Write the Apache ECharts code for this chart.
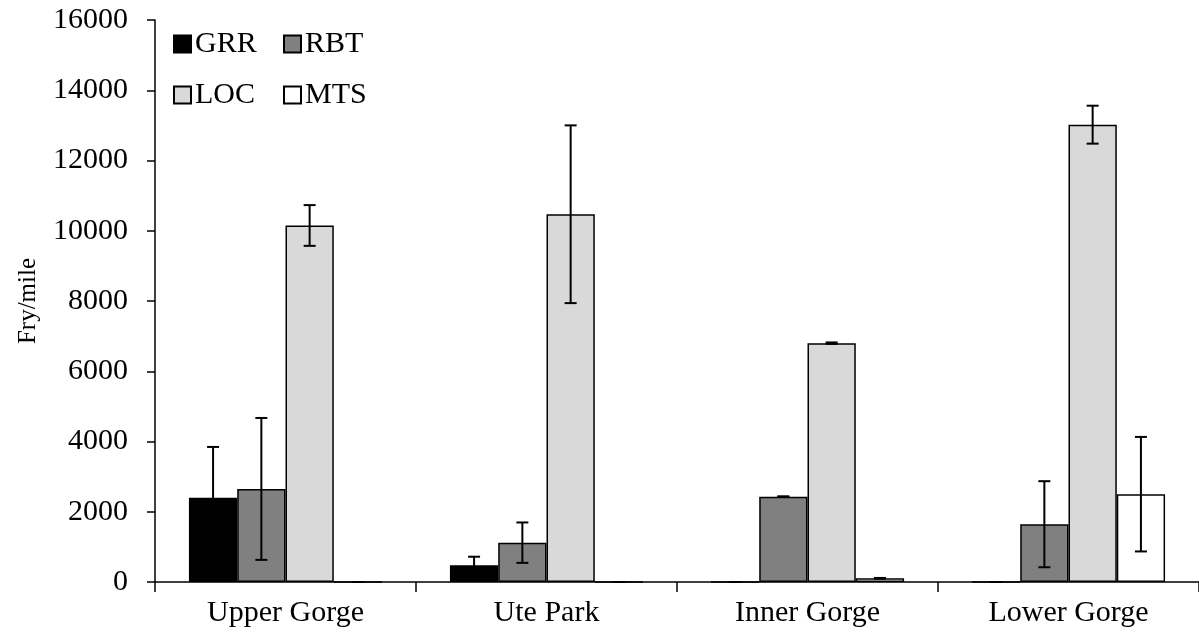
<!DOCTYPE html>
<html>
<head>
<meta charset="utf-8">
<script src="https://cdn.jsdelivr.net/npm/echarts@6/dist/echarts.min.js"></script>
<style>
html,body{margin:0;padding:0;background:#fff;}
#chart{width:1199px;height:637px;}
</style>
</head>
<body>
<div id="chart"></div>
<script>
const categories = ['Upper Gorge', 'Ute Park', 'Inner Gorge', 'Lower Gorge'];
const seriesNames = ['GRR', 'RBT', 'LOC', 'MTS'];
const grr = [2400, 475, 0, 0];
const rbt = [2650, 1120, 2430, 1645];
const loc = [10150, 10470, 6800, 13020];
const mts = [0, 0, 105, 2500];
const grrErr = [1445, 245, 0, 0];
const rbtErr = [2020, 575, 10, 1225];
const locErr = [580, 2530, 20, 540];
const mtsErr = [0, 0, 10, 1630];
const yTicks = [0, 2000, 4000, 6000, 8000, 10000, 12000, 14000, 16000];

const colors = ['#000000', '#808080', '#d9d9d9', '#ffffff'];
const values = [grr, rbt, loc, mts];
const errs = [grrErr, rbtErr, locErr, mtsErr];
const gapRatio = 0.26;
const FONT = '"Liberation Serif", "Times New Roman", serif';
const FS = 30;

const chart = echarts.init(document.getElementById('chart'));

const barSeries = seriesNames.map((name, i) => ({
  name: name,
  type: 'bar',
  data: values[i],
  barGap: '0%',
  barCategoryGap: (gapRatio * 100) + '%',
  itemStyle: { color: colors[i], borderColor: '#000', borderWidth: 1.5 },
  emphasis: { disabled: true },
  z: 2
}));

const errSeries = seriesNames.map((name, i) => ({
  type: 'custom',
  name: name + ' err',
  data: values[i].map((v, c) => [c, v - errs[i][c], v + errs[i][c]]),
  encode: { x: 0, y: [1, 2] },
  z: 5,
  silent: true,
  renderItem: function (params, api) {
    const ci = api.value(0);
    const lo = Math.max(0, api.value(1));
    const hi = api.value(2);
    const band = api.size([1, 0])[0];
    const bw = band * (1 - gapRatio) / 4;
    const off = (i - 1.5) * bw;
    const x = api.coord([ci, 0])[0] + off;
    const yLo = api.coord([ci, lo])[1];
    const yHi = api.coord([ci, hi])[1];
    const cap = 6;
    const st = { stroke: '#000', lineWidth: 2 };
    return {
      type: 'group',
      children: [
        { type: 'line', shape: { x1: x, y1: yLo, x2: x, y2: yHi }, style: st },
        { type: 'line', shape: { x1: x - cap, y1: yHi, x2: x + cap, y2: yHi }, style: st },
        { type: 'line', shape: { x1: x - cap, y1: yLo, x2: x + cap, y2: yLo }, style: st }
      ]
    };
  }
}));

const legendPos = [[173, 29], [283, 29], [173, 80], [283, 80]];
const legends = seriesNames.map((n, i) => ({
  data: [n],
  left: legendPos[i][0],
  top: legendPos[i][1],
  padding: 0,
  itemWidth: 17,
  itemHeight: 17,
  icon: 'rect',
  selectedMode: false,
  textStyle: { fontFamily: FONT, fontSize: FS, color: '#000', padding: [0, 0, 0, -1] }
}));

chart.setOption({
  animation: false,
  backgroundColor: '#fff',
  legend: legends,
  grid: { left: 155, right: 0, top: 20, bottom: 55, containLabel: false },
  xAxis: {
    type: 'category',
    data: categories,
    axisLine: { lineStyle: { color: '#000', width: 1.5 } },
    axisTick: { show: true, length: 10, lineStyle: { color: '#000', width: 1.5 } },
    axisLabel: { fontFamily: FONT, fontSize: FS, color: '#000', margin: 16 }
  },
  yAxis: {
    type: 'value',
    min: yTicks[0],
    max: yTicks[yTicks.length - 1],
    interval: yTicks[1] - yTicks[0],
    name: 'Fry/mile',
    nameLocation: 'middle',
    nameGap: 114,
    nameTextStyle: { fontFamily: FONT, fontSize: 25, color: '#000' },
    splitLine: { show: false },
    axisLine: { show: true, lineStyle: { color: '#000', width: 1.5 } },
    axisTick: { show: true, length: 8, lineStyle: { color: '#000', width: 1.5 } },
    axisLabel: { fontFamily: FONT, fontSize: FS, color: '#000', margin: 27, formatter: v => String(v) }
  },
  series: barSeries.concat(errSeries)
});
</script>
</body>
</html>
